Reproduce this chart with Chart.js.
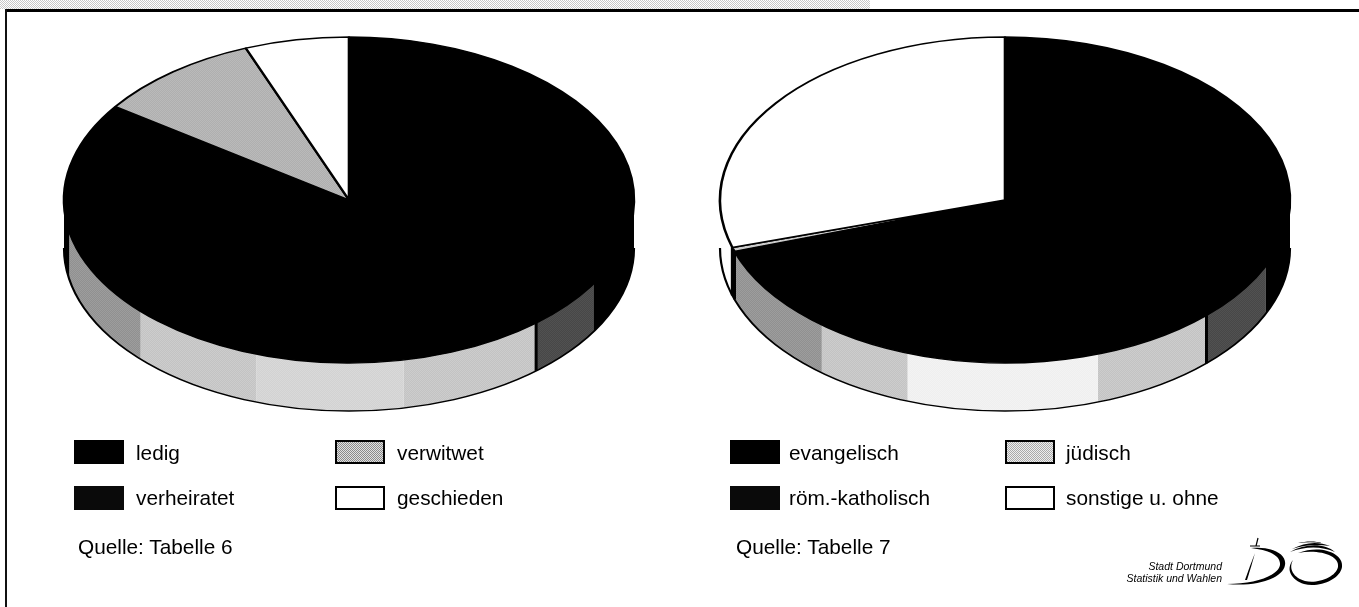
<!DOCTYPE html>
<html lang="de"><head><meta charset="utf-8"><title>Familienstand und Religion</title>
<script src="https://cdn.jsdelivr.net/npm/chart.js@4"></script>
<style>
html,body{margin:0;padding:0;background:#fff;width:1359px;height:607px;overflow:hidden;font-family:"Liberation Sans",Arial,sans-serif;color:#000}
canvas.pie{position:absolute;top:0}
#band{position:absolute;left:0;top:0;width:870px;height:9px}
#top{position:absolute;left:5px;top:9px;width:1354px;height:3px;background:#000}
#left{position:absolute;left:5px;top:9px;width:2px;height:598px;background:#111}
.sw{position:absolute;width:50px;height:24px;box-sizing:border-box}
.tx{position:absolute;font-size:20.8px;line-height:20px;white-space:nowrap}
.small{position:absolute;font-size:10.5px;font-style:italic;line-height:12px;text-align:right;width:130px;left:1092px;top:560px}
svg{position:absolute;left:0;top:0}
</style></head><body>
<div id="band"></div><div id="top"></div><div id="left"></div>
<canvas class="pie" id="c1" style="left:0"></canvas>
<canvas class="pie" id="c2" style="left:652px"></canvas>
<div id="legend"></div>
<div class="small">Stadt Dortmund<br>Statistik und Wahlen</div>
<svg width="1359" height="607" fill="#000">
<path d="M1258 538l-2 8M1250 546h10" stroke="#000" stroke-width="1.2" fill="none"/>
<path d="M1251 548C1270 546 1287 553 1285 565C1283 578 1258 587 1227 584C1255 584 1278 576 1280 565C1281 555 1268 550 1251 548Z"/>
<path d="M1255 553L1250 566L1245 580L1247 580L1251 567Z"/>
<path d="M1298 553C1322 544 1344 554 1342 567C1340 580 1318 588 1304 584C1292 580 1285 570 1293 560C1288 569 1294 578 1305 581C1318 584 1336 577 1338 567C1340 556 1320 549 1298 553Z"/>
<path d="M1290 552C1305 543 1325 543 1335 552C1322 546 1305 546 1290 552Z"/>
<path d="M1292 549C1305 542 1318 541 1330 546C1316 544 1304 545 1292 549Z"/>
<path d="M1298 543C1306 541 1316 541 1322 543C1314 542 1306 542 1298 543Z"/>
</svg>
<script>
// Familienstand (Tabelle 6)
const labels1 = ['ledig','verheiratet','verwitwet','geschieden'];
const values1 = [38.6,46.1,9.4,5.9];
// Religion (Tabelle 7)
const labels2 = ['evangelisch','röm.-katholisch','jüdisch','sonstige u. ohne'];
const values2 = [37.5,32.4,0.4,29.7];
// Mantelflächen of the 3D pies, clockwise from 12 o'clock
const sideValues1 = [121,18,30,30,28,32,101];
const sideTones1 = ['black','dark','light','soft','light','mid','black'];
const sideValues2 = [114,21,26,39,20,31,109];
const sideTones2 = ['black','dark','light','pale','light','mid','white'];
const quelle1 = 'Quelle: Tabelle 6';
const quelle2 = 'Quelle: Tabelle 7';

const SQUASH = 163/285, DEPTH = 48, CENTER_Y = 200;

function tile(a,b){
  const c=document.createElement('canvas');c.width=c.height=2;
  const x=c.getContext('2d');x.fillStyle=a;x.fillRect(0,0,2,2);
  x.fillStyle=b;x.fillRect(0,0,1,1);x.fillRect(1,1,1,1);return c;
}
const tiles={dark:tile('#222','#777'),mid:tile('#666','#c8c8c8'),light:tile('#a0a0a0','#f0f0f0'),soft:tile('#b8b8b8','#f4f4f4'),pale:tile('#e4e4e4','#fff'),slice:tile('#8a8a8a','#e0e0e0'),sliver:tile('#aaa','#eee')};
function fillFor(ctx,name){
  if(name==='black')return '#000';
  if(name==='white')return '#fff';
  const p=ctx.createPattern(tiles[name],'repeat');
  p.setTransform(new DOMMatrix().scale(1,1/SQUASH));
  return p;
}
const pie3d={
  id:'pie3d',
  beforeDatasetsDraw(chart,args,opts){
    const ctx=chart.ctx, side=chart.getDatasetMeta(0).data, top=chart.getDatasetMeta(1).data;
    const cx=top[0].x, cy=top[0].y, R=top[0].outerRadius, d=DEPTH/SQUASH;
    ctx.save();
    ctx.translate(cx,CENTER_Y);ctx.scale(1,SQUASH);ctx.translate(-cx,-cy);
    side.forEach((a,i)=>{
      const s=Math.max(a.startAngle,0), e=Math.min(a.endAngle,Math.PI);
      if(e<=s)return;
      ctx.beginPath();ctx.arc(cx,cy,R,s,e);ctx.arc(cx,cy+d,R,e,s,true);ctx.closePath();
      ctx.fillStyle=fillFor(ctx,opts.tones[i]);ctx.fill();
    });
    // outer contour and vertical edges
    ctx.strokeStyle='#000';ctx.lineWidth=2.2;
    ctx.beginPath();ctx.arc(cx,cy+d,R,0,Math.PI);ctx.stroke();
    ctx.lineWidth=3;
    top.forEach(a=>{
      const t=a.endAngle;
      if(t>0&&t<Math.PI){
        ctx.beginPath();
        ctx.moveTo(cx+R*Math.cos(t),cy+R*Math.sin(t));
        ctx.lineTo(cx+R*Math.cos(t),cy+d+R*Math.sin(t));ctx.stroke();
      }
    });
  },
  afterDatasetsDraw(chart){chart.ctx.restore();}
};
function makePie(id,labels,values,sideValues,sideTones,fills,w){
  const cv=document.getElementById(id);
  cv.width=w;cv.height=607;
  const ctx=cv.getContext('2d');
  return new Chart(cv,{
    type:'pie',
    data:{labels,datasets:[
      {label:'Mantel',data:sideValues,weight:0,backgroundColor:'rgba(0,0,0,0)',borderWidth:0},
      {label:'Anteil',data:values,weight:1,backgroundColor:fills.map(n=>fillFor(ctx,n)),borderColor:'#000',borderWidth:2.6,borderAlign:'center'}
    ]},
    options:{responsive:false,animation:false,events:[],clip:false,
      layout:{padding:{top:18.5,bottom:18.5}},
      plugins:{legend:{display:false},tooltip:{enabled:false},pie3d:{tones:sideTones}}},
    plugins:[pie3d]
  });
}
makePie('c1',labels1,values1,sideValues1,sideTones1,['black','black','slice','white'],698);
makePie('c2',labels2,values2,sideValues2,sideTones2,['black','black','sliver','white'],706);

// legends
const lg=document.getElementById('legend');
function dataUrl(c){return 'url('+c.toDataURL()+')';}
function addLegend(labels,quelle,xs,tx,qx,gray){
  const rows=[440,486], ty=[443,488];
  const styles=['background:#000','background:#0a0a0a','border:2px solid #000;background-image:'+dataUrl(gray),'border:2px solid #000;background:#fff'];
  const order=[[0,0],[1,0],[0,1],[1,1]];
  labels.forEach((l,i)=>{
    const [r,c]=order[i];
    lg.insertAdjacentHTML('beforeend','<div class="sw" style="left:'+xs[c]+'px;top:'+rows[r]+'px;'+styles[i]+'"></div>');
    const t=document.createElement('div');t.className='tx';t.textContent=l;
    t.style.left=tx[c]+'px';t.style.top=ty[r]+'px';lg.appendChild(t);
  });
  const q=document.createElement('div');q.className='tx';q.textContent=quelle;q.style.left=qx+'px';q.style.top='537px';lg.appendChild(q);
}
addLegend(labels1,quelle1,[74,335],[136,397],78,tiles.slice);
addLegend(labels2,quelle2,[730,1005],[789,1066],736,tiles.sliver);
document.getElementById('band').style.backgroundImage=dataUrl(tile('#fff','#c8c8c8'));
</script>
</body></html>
